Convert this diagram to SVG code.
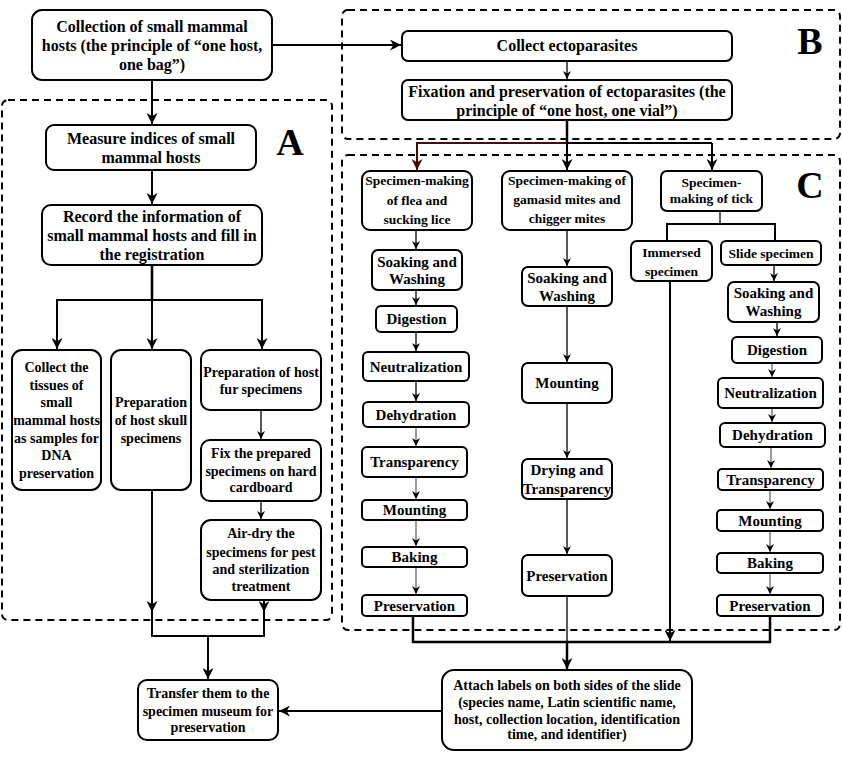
<svg xmlns="http://www.w3.org/2000/svg" width="842" height="758" viewBox="0 0 842 758">
<style>
text { font-family: "Liberation Serif", "Times New Roman", serif; text-anchor: middle; fill: #000; }
.b16 { font-size: 16px; font-weight: bold; }
.b15 { font-size: 15px; font-weight: bold; }
.b14 { font-size: 14px; font-weight: bold; }
.n15 { font-size: 14px; font-weight: bold; }
.n14 { font-size: 13.5px; font-weight: bold; }
.big { font-size: 38px; font-weight: bold; }
.box { fill: #fff; stroke: #000; stroke-width: 2; }
.dash { fill: none; stroke: #000; stroke-width: 2; stroke-dasharray: 7 5; }
.c { fill: none; stroke: #000; }
.thick { stroke-width: 2.5; }
.mid { stroke-width: 2; }
.thin { stroke-width: 1.3; }
.gray { stroke: #666; }
.red { stroke: #4b0a0a; }
</style>
<defs>
<marker id="ab" viewBox="0 0 10 10" markerUnits="userSpaceOnUse" markerWidth="11" markerHeight="11" refX="10" refY="5" orient="auto">
<path d="M0,0 L10,5 L0,10 L3,5 z" fill="#000"/>
</marker>
<marker id="as" viewBox="0 0 10 10" markerUnits="userSpaceOnUse" markerWidth="8" markerHeight="8" refX="10" refY="5" orient="auto">
<path d="M0,0 L10,5 L0,10 L3,5 z" fill="#000"/>
</marker>
<marker id="ar" viewBox="0 0 10 10" markerUnits="userSpaceOnUse" markerWidth="11" markerHeight="11" refX="10" refY="5" orient="auto">
<path d="M0,0 L10,5 L0,10 L3,5 z" fill="#4b0a0a"/>
</marker>
</defs>
<rect width="842" height="758" fill="#fff"/>

<g id="regions">
<rect class="dash" x="2" y="100" width="330" height="520" rx="6"/>
<rect class="dash" x="342" y="10" width="498" height="129" rx="6"/>
<rect class="dash" x="342" y="155" width="498" height="475" rx="6"/>
<text class="big" x="290" y="155">A</text>
<text class="big" x="810" y="54">B</text>
<text class="big" x="810" y="198">C</text>
</g>

<g id="connectors">
<line class="c mid" x1="272" y1="45" x2="401" y2="45" marker-end="url(#ab)"/>
<line class="c mid" x1="152" y1="80" x2="152" y2="124" marker-end="url(#ab)"/>
<line class="c mid" x1="152" y1="170" x2="152" y2="204" marker-end="url(#ab)"/>
<line class="c thick" x1="152" y1="265" x2="152" y2="300"/>
<polyline class="c mid" points="57,349 57,300 262,300 262,349"/>
<line class="c mid" x1="57" y1="300" x2="57" y2="349" marker-end="url(#ab)"/>
<line class="c mid" x1="152" y1="300" x2="152" y2="349" marker-end="url(#ab)"/>
<line class="c mid" x1="262" y1="300" x2="262" y2="349" marker-end="url(#ab)"/>
<line class="c thin" x1="261" y1="410" x2="261" y2="439" marker-end="url(#as)"/>
<line class="c thin" x1="261" y1="501" x2="261" y2="519" marker-end="url(#as)"/>
<line class="c mid" x1="152" y1="490" x2="152" y2="612" marker-end="url(#ab)"/>
<line class="c mid" x1="264" y1="600" x2="264" y2="612" marker-end="url(#ab)"/>
<polyline class="c mid" points="152,612 152,636 264,636 264,612"/>
<line class="c mid" x1="208" y1="636" x2="208" y2="679" marker-end="url(#ab)"/>
<line class="c mid" x1="442" y1="711" x2="279" y2="711" marker-end="url(#ab)"/>
<line class="c thin" x1="567" y1="61" x2="567" y2="79" marker-end="url(#as)"/>
<line class="c thick" x1="567" y1="120" x2="567" y2="143"/>
<polyline class="c mid red" points="567,143 417,143 417,170"/>
<line class="c mid red" x1="417" y1="143" x2="417" y2="170" marker-end="url(#ar)"/>
<polyline class="c mid" points="567,143 712,143"/>
<line class="c mid" x1="567" y1="143" x2="567" y2="170" marker-end="url(#ab)"/>
<line class="c mid" x1="712" y1="143" x2="712" y2="170" marker-end="url(#ab)"/>
<line class="c thin" x1="416" y1="230" x2="416" y2="249" marker-end="url(#as)"/>
<line class="c thin" x1="416" y1="290" x2="416" y2="305" marker-end="url(#as)"/>
<line class="c thin" x1="416" y1="332" x2="416" y2="351" marker-end="url(#as)"/>
<line class="c thin" x1="416" y1="381" x2="416" y2="401" marker-end="url(#as)"/>
<line class="c thin gray" x1="416" y1="427" x2="416" y2="446" marker-end="url(#as)"/>
<line class="c thin gray" x1="416" y1="477" x2="416" y2="499" marker-end="url(#as)"/>
<line class="c thin gray" x1="416" y1="520" x2="416" y2="546" marker-end="url(#as)"/>
<line class="c thin gray" x1="416" y1="567" x2="416" y2="594" marker-end="url(#as)"/>
<line class="c thin" x1="567" y1="230" x2="567" y2="266" marker-end="url(#as)"/>
<line class="c thin" x1="567" y1="306" x2="567" y2="362" marker-end="url(#as)"/>
<line class="c thin" x1="567" y1="403" x2="567" y2="458" marker-end="url(#as)"/>
<line class="c thin" x1="567" y1="499" x2="567" y2="554" marker-end="url(#as)"/>
<line class="c thin" x1="720" y1="211" x2="720" y2="224"/>
<polyline class="c mid" points="667,241 667,224 775,224 775,241"/>
<line class="c thin" x1="774" y1="265" x2="774" y2="281" marker-end="url(#as)"/>
<line class="c thin" x1="777" y1="322" x2="777" y2="336" marker-end="url(#as)"/>
<line class="c thin gray" x1="772" y1="363" x2="772" y2="377" marker-end="url(#as)"/>
<line class="c thin gray" x1="772" y1="408" x2="772" y2="422" marker-end="url(#as)"/>
<line class="c thin gray" x1="771" y1="447" x2="771" y2="468" marker-end="url(#as)"/>
<line class="c thin gray" x1="770" y1="490" x2="770" y2="509" marker-end="url(#as)"/>
<line class="c thin gray" x1="770" y1="531" x2="770" y2="552" marker-end="url(#as)"/>
<line class="c thin gray" x1="770" y1="573" x2="770" y2="594" marker-end="url(#as)"/>
<line class="c mid" x1="670" y1="281" x2="670" y2="641" marker-end="url(#ab)"/>
<polyline class="c thick" points="413,616 413,642 770,642 770,616"/>
<line class="c thin" x1="567" y1="596" x2="567" y2="642"/>
<line class="c thick" x1="567" y1="642" x2="567" y2="669" marker-end="url(#ab)"/>
</g>

<g id="n-collection">
<rect class="box" x="32" y="10" width="240" height="70" rx="10"/>
<text class="b16" x="152" y="32">Collection of small mammal</text>
<text class="b16" x="152" y="51">hosts (the principle of “one host,</text>
<text class="b16" x="152" y="70">one bag”)</text>
</g>
<g id="n-collect-ecto">
<rect class="box" x="402" y="31" width="330" height="30" rx="6"/>
<text class="b16" x="567" y="51">Collect ectoparasites</text>
</g>
<g id="n-fixation">
<rect class="box" x="402" y="80" width="330" height="40" rx="6"/>
<text class="b16" x="567" y="97">Fixation and preservation of ectoparasites (the</text>
<text class="b16" x="567" y="116">principle of “one host, one vial”)</text>
</g>
<g id="n-measure">
<rect class="box" x="46" y="125" width="210" height="45" rx="8"/>
<text class="b16" x="151" y="144">Measure indices of small</text>
<text class="b16" x="151" y="163">mammal hosts</text>
</g>
<g id="n-record">
<rect class="box" x="42" y="205" width="220" height="60" rx="9"/>
<text class="b16" x="152" y="222">Record the information of</text>
<text class="b16" x="152" y="241">small mammal hosts and fill in</text>
<text class="b16" x="152" y="260">the registration</text>
</g>
<g id="n-tissues">
<rect class="box" x="12" y="350" width="89" height="140" rx="10"/>
<text class="b14" x="56.5" y="372">Collect the</text>
<text class="b14" x="56.5" y="390">tissues of</text>
<text class="b14" x="56.5" y="407">small</text>
<text class="b14" x="56.5" y="425">mammal hosts</text>
<text class="b14" x="56.5" y="443">as samples for</text>
<text class="b14" x="56.5" y="460">DNA</text>
<text class="b14" x="56.5" y="478">preservation</text>
</g>
<g id="n-skull">
<rect class="box" x="111" y="350" width="80" height="140" rx="10"/>
<text class="n15" x="151" y="407">Preparation</text>
<text class="n15" x="151" y="425">of host skull</text>
<text class="n15" x="151" y="443">specimens</text>
</g>
<g id="n-fur">
<rect class="box" x="201" y="350" width="120" height="60" rx="9"/>
<text class="n15" x="261" y="377">Preparation of host</text>
<text class="n15" x="261" y="394">fur specimens</text>
</g>
<g id="n-fixprep">
<rect class="box" x="201" y="440" width="120" height="61" rx="9"/>
<text class="b14" x="261" y="458">Fix the prepared</text>
<text class="b14" x="261" y="476">specimens on hard</text>
<text class="b14" x="261" y="492">cardboard</text>
</g>
<g id="n-airdry">
<rect class="box" x="201" y="520" width="120" height="80" rx="10"/>
<text class="b14" x="261" y="538">Air-dry the</text>
<text class="b14" x="261" y="557">specimens for pest</text>
<text class="b14" x="261" y="574">and sterilization</text>
<text class="b14" x="261" y="591">treatment</text>
</g>
<g id="n-transfer">
<rect class="box" x="138" y="680" width="140" height="60" rx="9"/>
<text class="b14" x="208" y="698">Transfer them to the</text>
<text class="b14" x="208" y="716">specimen museum for</text>
<text class="b14" x="208" y="732">preservation</text>
</g>
<g id="n-attach">
<rect class="box" x="442" y="670" width="250" height="80" rx="12"/>
<text class="b14" x="567" y="690">Attach labels on both sides of the slide</text>
<text class="b14" x="567" y="707">(species name, Latin scientific name,</text>
<text class="b14" x="567" y="724">host, collection location, identification</text>
<text class="b14" x="567" y="739">time, and identifier)</text>
</g>

<g id="n-flea">
<rect class="box" x="362" y="171" width="110" height="59" rx="8"/>
<text class="n14" x="417" y="185">Specimen-making</text>
<text class="n14" x="417" y="205">of flea and</text>
<text class="n14" x="417" y="224">sucking lice</text>
</g>
<g id="n-soak1">
<rect class="box" x="372" y="250" width="90" height="40" rx="6"/>
<text class="b15" x="417" y="267">Soaking and</text>
<text class="b15" x="417" y="284">Washing</text>
</g>
<g id="n-digest1">
<rect class="box" x="376" y="306" width="81" height="26" rx="5"/>
<text class="b15" x="416.5" y="324">Digestion</text>
</g>
<g id="n-neutral1">
<rect class="box" x="363" y="352" width="106" height="29" rx="5"/>
<text class="b15" x="416" y="372">Neutralization</text>
</g>
<g id="n-dehyd1">
<rect class="box" x="363" y="402" width="106" height="25" rx="5"/>
<text class="b15" x="416" y="420">Dehydration</text>
</g>
<g id="n-transp1">
<rect class="box" x="362" y="447" width="105" height="30" rx="5"/>
<text class="b15" x="414.5" y="467">Transparency</text>
</g>
<g id="n-mount1">
<rect class="box" x="362" y="500" width="105" height="20" rx="4"/>
<text class="b15" x="414.5" y="515">Mounting</text>
</g>
<g id="n-bake1">
<rect class="box" x="362" y="547" width="105" height="20" rx="4"/>
<text class="b15" x="414.5" y="562">Baking</text>
</g>
<g id="n-pres1">
<rect class="box" x="362" y="595" width="105" height="21" rx="4"/>
<text class="b15" x="414.5" y="611">Preservation</text>
</g>

<g id="n-gamasid">
<rect class="box" x="502" y="171" width="130" height="59" rx="8"/>
<text class="n14" x="567" y="185">Specimen-making of</text>
<text class="n14" x="567" y="204">gamasid mites and</text>
<text class="n14" x="567" y="223">chigger mites</text>
</g>
<g id="n-soak2">
<rect class="box" x="522" y="267" width="90" height="39" rx="6"/>
<text class="b15" x="567" y="283">Soaking and</text>
<text class="b15" x="567" y="301">Washing</text>
</g>
<g id="n-mount2">
<rect class="box" x="522" y="363" width="90" height="40" rx="6"/>
<text class="b15" x="567" y="388">Mounting</text>
</g>
<g id="n-dry2">
<rect class="box" x="522" y="459" width="90" height="40" rx="6"/>
<text class="b15" x="567" y="475">Drying and</text>
<text class="b15" x="567" y="494">Transparency</text>
</g>
<g id="n-pres2">
<rect class="box" x="522" y="555" width="90" height="41" rx="6"/>
<text class="b15" x="567" y="581">Preservation</text>
</g>

<g id="n-tick">
<rect class="box" x="661" y="171" width="101" height="40" rx="6"/>
<text class="n14" x="711.5" y="187">Specimen-</text>
<text class="n14" x="711.5" y="203">making of tick</text>
</g>
<g id="n-immersed">
<rect class="box" x="631" y="241" width="81" height="40" rx="6"/>
<text class="n14" x="671.5" y="257">Immersed</text>
<text class="n14" x="671.5" y="276">specimen</text>
</g>
<g id="n-slide">
<rect class="box" x="721" y="241" width="100" height="24" rx="5"/>
<text class="n14" x="771" y="258">Slide specimen</text>
</g>
<g id="n-soak3">
<rect class="box" x="728" y="282" width="91" height="40" rx="6"/>
<text class="b15" x="773.5" y="298">Soaking and</text>
<text class="b15" x="773.5" y="316">Washing</text>
</g>
<g id="n-digest3">
<rect class="box" x="732" y="337" width="90" height="26" rx="5"/>
<text class="b15" x="777" y="355">Digestion</text>
</g>
<g id="n-neutral3">
<rect class="box" x="718" y="378" width="105" height="30" rx="5"/>
<text class="b15" x="770.5" y="398">Neutralization</text>
</g>
<g id="n-dehyd3">
<rect class="box" x="720" y="423" width="105" height="24" rx="5"/>
<text class="b15" x="772.5" y="440">Dehydration</text>
</g>
<g id="n-transp3">
<rect class="box" x="718" y="469" width="105" height="21" rx="4"/>
<text class="b15" x="770.5" y="485">Transparency</text>
</g>
<g id="n-mount3">
<rect class="box" x="717" y="510" width="106" height="21" rx="4"/>
<text class="b15" x="770" y="526">Mounting</text>
</g>
<g id="n-bake3">
<rect class="box" x="717" y="553" width="106" height="20" rx="4"/>
<text class="b15" x="770" y="568">Baking</text>
</g>
<g id="n-pres3">
<rect class="box" x="717" y="595" width="106" height="21" rx="4"/>
<text class="b15" x="770" y="611">Preservation</text>
</g>
</svg>
